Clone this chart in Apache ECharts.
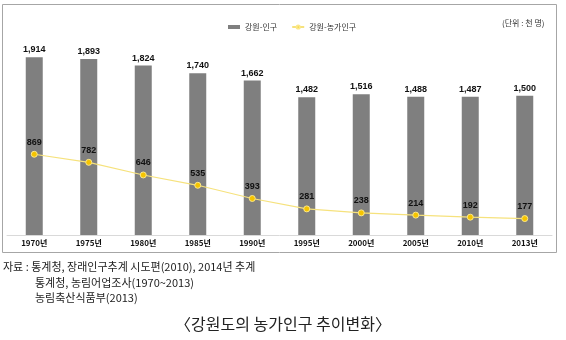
<!DOCTYPE html>
<html><head><meta charset="utf-8">
<script src="https://cdn.jsdelivr.net/npm/echarts@6/dist/echarts.min.js"></script>
<style>html,body{margin:0;padding:0;background:#fff;}#c{width:566px;height:340px;}</style>
</head><body><div id="c"></div>
<script>
const categories = ['1970년','1975년','1980년','1985년','1990년','1995년','2000년','2005년','2010년','2013년'];
const population = [1914, 1893, 1824, 1740, 1662, 1482, 1516, 1488, 1487, 1500];
const farmPopulation = [869, 782, 646, 535, 393, 281, 238, 214, 192, 177];
const seriesNames = ['강원-인구', '강원-농가인구'];
const unitText = '(단위 : 천 명)';
const sourceLines = ['자료 : 통계청, 장래인구추계 시도편(2010), 2014년 추계', '통계청, 농림어업조사(1970~2013)', '농림축산식품부(2013)'];
const titleText = '〈강원도의 농가인구 추이변화〉';

const KR = '"Noto Sans CJK KR", "Liberation Sans", sans-serif';
const NUM = '"Liberation Sans", Arial, sans-serif';
const chart = echarts.init(document.getElementById('c'), null, {renderer: 'canvas'});
chart.setOption({
  animation: false,
  backgroundColor: '#fff',
  grid: {left: 7, right: 14, top: 12, bottom: 105},
  legend: {
    left: 223, top: 18, itemGap: 14, itemWidth: 12, itemHeight: 4,
    textStyle: {fontSize: 8, fontFamily: KR, color: '#333'},
    data: [{name: seriesNames[0], icon: 'rect'}, {name: seriesNames[1]}]
  },
  xAxis: {
    type: 'category', data: categories,
    axisLine: {lineStyle: {color: '#d9d9d9'}},
    axisTick: {show: false},
    axisLabel: {fontSize: 8, fontWeight: 'bold', color: '#111', fontFamily: KR, margin: 4}
  },
  yAxis: {type: 'value', min: 0, max: 2400, show: false, splitLine: {show: false}},
  series: [
    {
      name: seriesNames[0], type: 'bar', data: population, barWidth: 17,
      itemStyle: {color: '#7f7f7f'},
      label: {show: true, position: 'top', distance: 3, fontSize: 9, fontWeight: 'bold', color: '#111', fontFamily: NUM,
        formatter: p => p.value.toLocaleString('en-US')}
    },
    {
      name: seriesNames[1], type: 'line', data: farmPopulation,
      symbol: 'circle', symbolSize: 6,
      lineStyle: {color: '#f6e27d', width: 1.2},
      itemStyle: {color: '#f5c400', borderColor: '#fbe88a', borderWidth: 1},
      label: {show: true, position: 'top', distance: 4, fontSize: 9, fontWeight: 'bold', color: '#111', fontFamily: NUM}
    }
  ],
  graphic: [
    {type: 'rect', shape: {x: 2.5, y: 4.5, width: 554, height: 248}, style: {fill: 'none', stroke: '#a6a6a6', lineWidth: 1}, z: -1},
    {type: 'text', left: 502, top: 19, style: {text: unitText, fontSize: 8, fill: '#333', fontFamily: KR}},
    {type: 'text', left: 3, top: 261, style: {text: sourceLines[0], fontSize: 11, fill: '#222', fontFamily: KR}},
    {type: 'text', left: 35, top: 277, style: {text: sourceLines[1], fontSize: 11, fill: '#222', fontFamily: KR}},
    {type: 'text', left: 35, top: 292, style: {text: sourceLines[2], fontSize: 11, fill: '#222', fontFamily: KR}},
    {type: 'text', left: 'center', top: 316, style: {text: titleText, fontSize: 16, fill: '#222', fontFamily: KR}}
  ]
});
</script></body></html>
